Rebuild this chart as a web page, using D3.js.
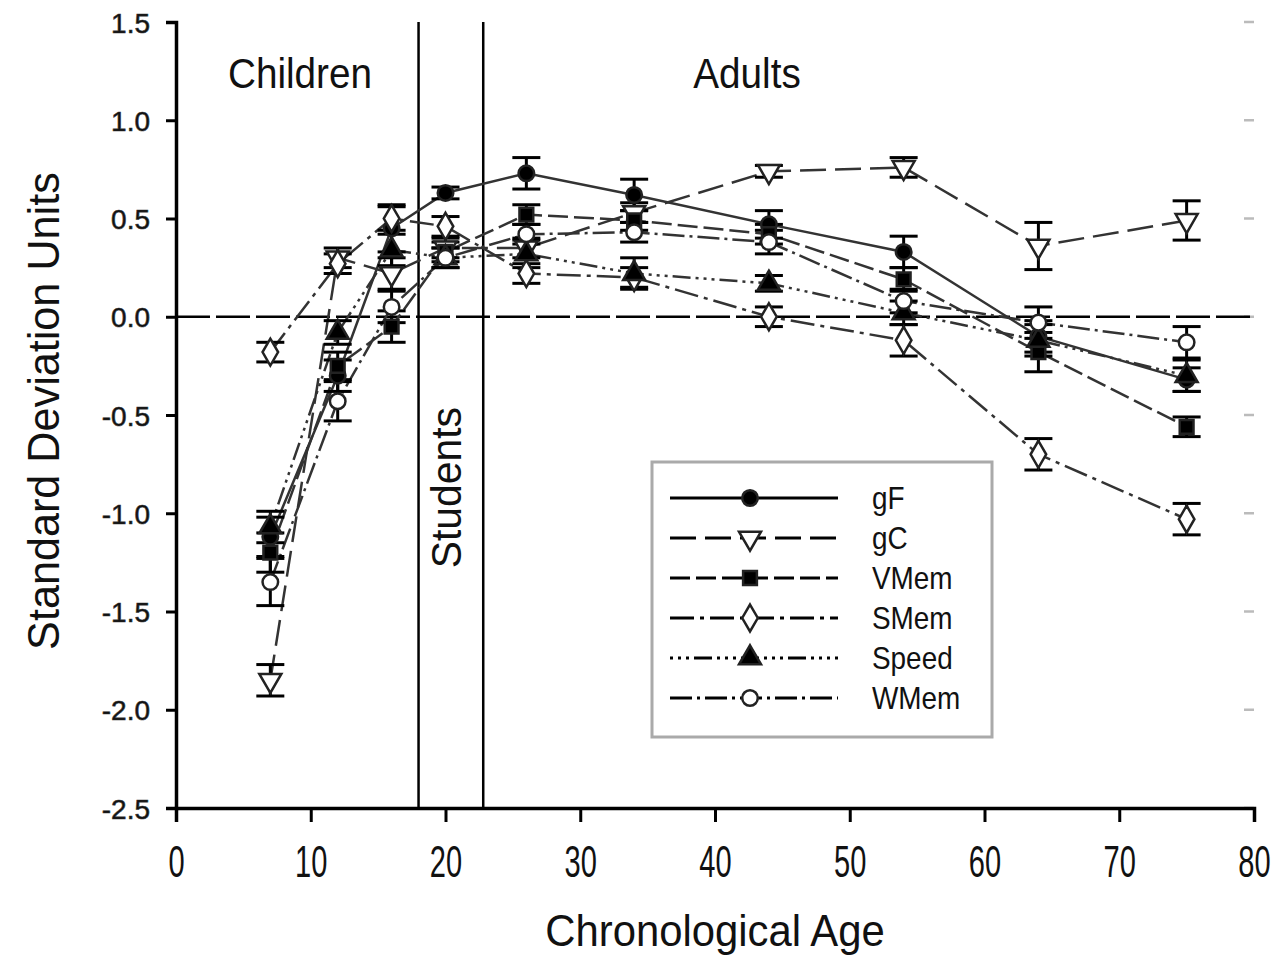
<!DOCTYPE html>
<html>
<head>
<meta charset="utf-8">
<script src="https://cdn.jsdelivr.net/npm/d3@7"></script>
<style>
  body { margin: 0; background: #fff; }
  text { font-family: "Liberation Sans", Arial, sans-serif; fill: #111; }
</style>
</head>
<body>
<div id="chart"></div>
<script>
// ages of the groups
const ages = [7, 12, 16, 20, 26, 34, 44, 54, 64, 75];

// mean values (SD units) per series
const gF    = [-1.12, -0.30, 0.45, 0.63, 0.73, 0.62, 0.47, 0.33, -0.10, -0.32];
const gC    = [-1.85, 0.30, 0.22, 0.35, 0.35, 0.53, 0.74, 0.76, 0.36, 0.49];
const VMem  = [-1.20, -0.25, -0.05, 0.33, 0.52, 0.49, 0.42, 0.19, -0.18, -0.56];
const SMem  = [-0.18, 0.27, 0.50, 0.46, 0.22, 0.20, 0.00, -0.12, -0.70, -1.03];
const Speed = [-1.07, -0.08, 0.34, 0.30, 0.32, 0.22, 0.17, 0.02, -0.12, -0.30];
const WMem  = [-1.35, -0.43, 0.05, 0.30, 0.42, 0.43, 0.38, 0.08, -0.03, -0.13];

// standard errors
const gFErr    = [0.10, 0.08, 0.12, 0.03, 0.08, 0.08, 0.07, 0.08, 0.08, 0.06];
const gCErr    = [0.08, 0.05, 0.08, 0.05, 0.05, 0.05, 0.03, 0.05, 0.12, 0.10];
const VMemErr  = [0.10, 0.07, 0.08, 0.05, 0.05, 0.05, 0.05, 0.06, 0.10, 0.05];
const SMemErr  = [0.05, 0.05, 0.06, 0.05, 0.05, 0.05, 0.05, 0.08, 0.08, 0.08];
const SpeedErr = [0.08, 0.06, 0.08, 0.05, 0.07, 0.08, 0.04, 0.06, 0.08, 0.08];
const WMemErr  = [0.12, 0.10, 0.08, 0.05, 0.05, 0.05, 0.06, 0.06, 0.08, 0.08];

const xTicks = [0, 10, 20, 30, 40, 50, 60, 70, 80];
const yTicks = [-2.5, -2.0, -1.5, -1.0, -0.5, 0.0, 0.5, 1.0, 1.5];
const periodBounds = [18, 22.8];

const series = [
  { name: "gF",    values: gF,    err: gFErr,    symbol: d3.symbolCircle,   fill: "#000", dash: null,               rotate: 0 },
  { name: "gC",    values: gC,    err: gCErr,    symbol: d3.symbolTriangle, fill: "#fff", dash: "26,9",             rotate: 180 },
  { name: "VMem",  values: VMem,  err: VMemErr,  symbol: d3.symbolSquare,   fill: "#000", dash: "20,6",             rotate: 0 },
  { name: "SMem",  values: SMem,  err: SMemErr,  symbol: d3.symbolDiamond,  fill: "#fff", dash: "24,6,4,6",         rotate: 0 },
  { name: "Speed", values: Speed, err: SpeedErr, symbol: d3.symbolTriangle, fill: "#000", dash: "3,5,3,5,3,5,18,5", rotate: 0 },
  { name: "WMem",  values: WMem,  err: WMemErr,  symbol: d3.symbolCircle,   fill: "#fff", dash: "22,5,3,5",         rotate: 0 }
];

const width = 1275, height = 956;
const plot = { left: 176, right: 1254, top: 22, bottom: 808 };

const svg = d3.select("#chart").append("svg")
  .attr("width", width)
  .attr("height", height);

const x = d3.scaleLinear().domain([0, 80]).range([plot.left, plot.right]);
const y = d3.scaleLinear().domain([-2.5, 1.5]).range([plot.bottom, plot.top]);

const symbolSize = s => s === d3.symbolDiamond ? 210 : s === d3.symbolTriangle ? 210 : 190;

// faint ticks on the right side
svg.append("g")
  .selectAll("line")
  .data(yTicks)
  .join("line")
  .attr("x1", plot.right - 10).attr("x2", plot.right)
  .attr("y1", d => y(d)).attr("y2", d => y(d))
  .attr("stroke", "#bbb").attr("stroke-width", 2.5);

// zero line
svg.append("line")
  .attr("x1", plot.left).attr("x2", plot.right)
  .attr("y1", y(0)).attr("y2", y(0))
  .attr("stroke", "#000").attr("stroke-width", 2.5)
  .attr("stroke-dasharray", "34,6");

// period boundaries
svg.append("g")
  .selectAll("line")
  .data(periodBounds)
  .join("line")
  .attr("x1", d => x(d)).attr("x2", d => x(d))
  .attr("y1", plot.top).attr("y2", plot.bottom)
  .attr("stroke", "#000").attr("stroke-width", 2.5);

// axes
const fmt = d3.format(".1f");
const yAxis = svg.append("g")
  .attr("transform", `translate(${plot.left},0)`)
  .call(d3.axisLeft(y).tickValues(yTicks).tickFormat(d => fmt(d).replace("\u2212", "-")).tickSize(10).tickPadding(16));
yAxis.select(".domain").attr("stroke-width", 3.5);
yAxis.selectAll(".tick line").attr("stroke-width", 3);
yAxis.selectAll(".tick text")
  .attr("font-size", 28).attr("fill", "#333")
  .attr("stroke", "#333").attr("stroke-width", 0.6)
  .attr("dy", "0.36em");

const xAxis = svg.append("g")
  .attr("transform", `translate(0,${plot.bottom})`)
  .call(d3.axisBottom(x).tickValues(xTicks).tickSize(14).tickPadding(24));
xAxis.select(".domain").attr("stroke-width", 3.5);
xAxis.selectAll(".tick line").attr("stroke-width", 3);
xAxis.selectAll(".tick text")
  .attr("font-size", 44).attr("fill", "#222")
  .attr("transform", "scale(0.66,1)");

// axis titles
svg.append("text")
  .attr("transform", `translate(${x(40)},946) scale(0.93,1)`)
  .attr("text-anchor", "middle")
  .attr("font-size", 45)
  .text("Chronological Age");

svg.append("text")
  .attr("transform", `translate(59,${y(-0.48)}) rotate(-90) scale(0.96,1)`)
  .attr("text-anchor", "middle")
  .attr("font-size", 45)
  .text("Standard Deviation Units");

// period labels
svg.append("text")
  .attr("transform", "translate(300,88) scale(0.9,1)")
  .attr("text-anchor", "middle").attr("font-size", 43).text("Children");
svg.append("text")
  .attr("transform", "translate(747,88) scale(0.9,1)")
  .attr("text-anchor", "middle").attr("font-size", 43).text("Adults");
svg.append("text")
  .attr("transform", `translate(461,${y(-0.87)}) rotate(-90) scale(0.95,1)`)
  .attr("text-anchor", "middle").attr("font-size", 43).text("Students");

// series lines
const line = d3.line().x((d, i) => x(ages[i])).y(d => y(d));
svg.append("g")
  .selectAll("path")
  .data(series)
  .join("path")
  .attr("d", s => line(s.values))
  .attr("fill", "none")
  .attr("stroke", "#333")
  .attr("stroke-width", 2.5)
  .attr("stroke-dasharray", s => s.dash);

// error bars
const capW = 14;
series.forEach(s => {
  const g = svg.append("g").attr("stroke", "#000").attr("stroke-width", 3);
  s.values.forEach((v, i) => {
    const cx = x(ages[i]);
    const top = y(v + s.err[i]), bot = y(v - s.err[i]);
    g.append("line").attr("x1", cx).attr("x2", cx).attr("y1", top).attr("y2", bot);
    g.append("line").attr("x1", cx - capW).attr("x2", cx + capW).attr("y1", top).attr("y2", top);
    g.append("line").attr("x1", cx - capW).attr("x2", cx + capW).attr("y1", bot).attr("y2", bot);
  });
});

// markers
series.forEach(s => {
  svg.append("g")
    .selectAll("path")
    .data(s.values)
    .join("path")
    .attr("d", d3.symbol().type(s.symbol).size(symbolSize(s.symbol)))
    .attr("transform", (d, i) => `translate(${x(ages[i])},${y(d)}) rotate(${s.rotate})`)
    .attr("fill", s.fill)
    .attr("stroke", "#222")
    .attr("stroke-width", 2.5);
});

// legend
const legend = svg.append("g").attr("transform", "translate(652,462)");
legend.append("rect")
  .attr("width", 340).attr("height", 275)
  .attr("fill", "#fff").attr("stroke", "#aaa").attr("stroke-width", 3);

const rowY = d3.scalePoint().domain(series.map(s => s.name)).range([36, 236]);
series.forEach(s => {
  const row = legend.append("g").attr("transform", `translate(0,${rowY(s.name)})`);
  row.append("line")
    .attr("x1", 18).attr("x2", 186)
    .attr("stroke", "#000").attr("stroke-width", 3)
    .attr("stroke-dasharray", s.dash);
  row.append("path")
    .attr("d", d3.symbol().type(s.symbol).size(symbolSize(s.symbol)))
    .attr("transform", `translate(98,0) rotate(${s.rotate})`)
    .attr("fill", s.fill).attr("stroke", "#222").attr("stroke-width", 2.5);
  row.append("text")
    .attr("transform", "translate(220,11) scale(0.9,1)")
    .attr("font-size", 31)
    .text(s.name);
});
</script>
</body>
</html>
